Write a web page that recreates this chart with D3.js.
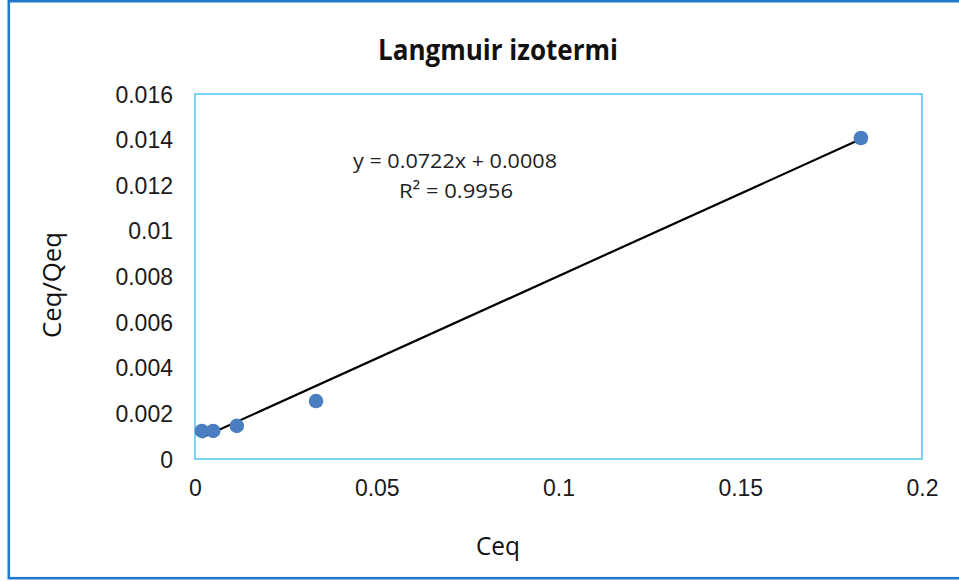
<!DOCTYPE html>
<html><head><meta charset="utf-8">
<script src="https://cdn.jsdelivr.net/npm/d3@7"></script>
<style>body{margin:0;background:#fff}svg{display:block}</style>
</head><body>
<svg id="c" width="959" height="581"></svg>
<script>
const ceq = [0.0019, 0.0050, 0.0115, 0.0333, 0.1832];
const ceqQeq = [0.00123, 0.00123, 0.00145, 0.00254, 0.01407];
const xTicks = [0, 0.05, 0.1, 0.15, 0.2];
const yTicks = [0, 0.002, 0.004, 0.006, 0.008, 0.01, 0.012, 0.014, 0.016];
const slope = 0.0722, intercept = 0.0008;
const titleText = "Langmuir izotermi";
const eqText = "y = 0.0722x + 0.0008";
const r2Text = "R² = 0.9956";

const svg = d3.select("#c");
const L = 195, R = 922, T = 94, B = 459;
const x = d3.scaleLinear().domain([0, 0.2]).range([L, R]);
const y = d3.scaleLinear().domain([0, 0.016]).range([B, T]);

svg.append("rect").attr("x", 8.8).attr("y", 1.2).attr("width", 1000).attr("height", 577)
  .attr("fill", "none").attr("stroke", "#1F78CC").attr("stroke-width", 2.6);

svg.append("rect").attr("x", L).attr("y", T).attr("width", R - L).attr("height", B - T)
  .attr("fill", "none").attr("stroke", "#5BC8F5").attr("stroke-width", 1.6);

const tickFont = "'Liberation Sans', Arial, sans-serif";
const fmt = d => String(+d.toFixed(4));

const xAxis = svg.append("g").attr("transform", `translate(0,${B})`)
  .call(d3.axisBottom(x).tickValues(xTicks).tickSize(0).tickPadding(20).tickFormat(fmt));
xAxis.select(".domain").remove();
xAxis.selectAll("text").attr("font-family", tickFont).attr("font-size", 23).attr("fill", "#1a1a1a")
  .attr("dy", "0.72em");

const yAxis = svg.append("g").attr("transform", `translate(${L},0)`)
  .call(d3.axisLeft(y).tickValues(yTicks).tickSize(0).tickPadding(22).tickFormat(fmt));
yAxis.select(".domain").remove();
yAxis.selectAll("text").attr("font-family", tickFont).attr("font-size", 23).attr("fill", "#1a1a1a")
  .attr("dy", "0.35em");

// trendline
const x0 = d3.min(ceq), x1 = d3.max(ceq);
svg.append("line")
  .attr("x1", x(x0)).attr("y1", y(slope * x0 + intercept))
  .attr("x2", x(x1)).attr("y2", y(slope * x1 + intercept))
  .attr("stroke", "#000").attr("stroke-width", 2.2);

// points
svg.append("g").selectAll("circle").data(ceq.map((d, i) => [d, ceqQeq[i]])).join("circle")
  .attr("cx", d => x(d[0])).attr("cy", d => y(d[1])).attr("r", 7.3)
  .attr("fill", "#4A7EC0");

const txtFont = "'Open Sans', 'Noto Sans', sans-serif";
svg.append("text").attr("x", 498).attr("y", 60).attr("text-anchor", "middle")
  .attr("font-family", txtFont).attr("font-weight", "bold").attr("font-size", 28)
  .attr("textLength", 240).attr("lengthAdjust", "spacingAndGlyphs").attr("fill", "#111")
  .text(titleText);

svg.append("text").attr("x", 455).attr("y", 168).attr("text-anchor", "middle")
  .attr("font-family", txtFont).attr("font-size", 20)
  .attr("textLength", 204).attr("lengthAdjust", "spacingAndGlyphs").attr("fill", "#222")
  .text(eqText);
svg.append("text").attr("x", 456).attr("y", 198).attr("text-anchor", "middle")
  .attr("font-family", txtFont).attr("font-size", 20)
  .attr("textLength", 114).attr("lengthAdjust", "spacingAndGlyphs").attr("fill", "#222")
  .text(r2Text);

svg.append("text").attr("x", 498).attr("y", 555).attr("text-anchor", "middle")
  .attr("font-family", txtFont).attr("font-size", 25).attr("fill", "#111")
  .attr("textLength", 44).attr("lengthAdjust", "spacingAndGlyphs")
  .text("Ceq");

svg.append("text").attr("transform", "translate(61,285) rotate(-90)").attr("text-anchor", "middle")
  .attr("font-family", txtFont).attr("font-size", 25).attr("fill", "#111")
  .attr("textLength", 106).attr("lengthAdjust", "spacingAndGlyphs")
  .text("Ceq/Qeq");
</script>
</body></html>
